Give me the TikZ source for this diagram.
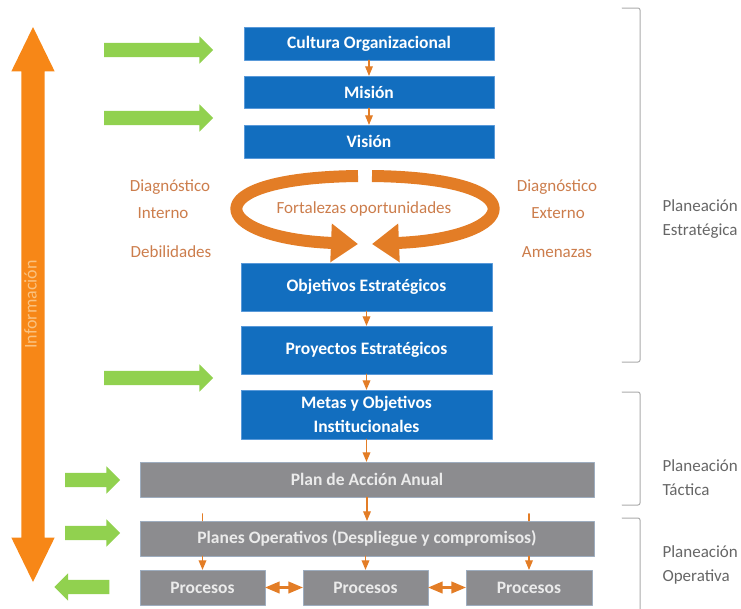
\documentclass[tikz,border=0pt]{standalone}
\usepackage{fontspec}
\setmainfont{Carlito}
\usetikzlibrary{arrows,arrows.meta,shapes.arrows,calc}
\definecolor{qqttcc}{rgb}{0.07,0.43,0.75}
\definecolor{zzbbff}{rgb}{0.35,0.6,0.85}
\definecolor{ttttuu}{rgb}{0.55,0.55,0.56}
\definecolor{bbccdd}{rgb}{0.62,0.68,0.75}
\definecolor{ccffqq}{rgb}{0.57,0.82,0.31}
\definecolor{ffttqq}{rgb}{0.97,0.53,0.09}
\definecolor{ffccaa}{rgb}{0.98,0.76,0.5}
\definecolor{eettqq}{rgb}{0.89,0.49,0.15}
\definecolor{cctt44}{rgb}{0.8,0.49,0.3}
\definecolor{gggggg}{rgb}{0.67,0.67,0.67}
\definecolor{uuuuuu}{rgb}{0.4,0.4,0.4}

\begin{document}
\begin{tikzpicture}[line cap=round,line join=round,>=triangle 45,x=1pt,y=-1pt,
	azul/.style={draw=zzbbff,fill=qqttcc,text=white,inner sep=0,minimum width=250,font=\fontsize{17.5}{24}\selectfont\bfseries,align=center},
	gris/.style={draw=bbccdd,fill=ttttuu,text=white!92!black,inner sep=0,minimum height=35,font=\fontsize{17.5}{20}\selectfont\bfseries},
	verde/.style={single arrow,fill=ccffqq,inner xsep=0,inner ysep=7pt,text height=0pt,text depth=0pt,minimum width=27,single arrow head extend=6.5,single arrow tip angle=90},
	conector/.style={draw=eettqq,line width=1.2pt},
	ciclo/.style={draw=eettqq,line width=12pt,line cap=butt,-{Triangle[length=27pt,width=37pt]}},
	etiqueta/.style={text=cctt44,font=\fontsize{17}{20}\selectfont},
	nivel/.style={text=uuuuuu,font=\fontsize{17}{24}\selectfont,align=left,anchor=west},
	llave/.style={draw=gggggg,line width=1pt,rounded corners=2pt}]
		\useasboundingbox (0,0) rectangle (741,608);
		\node[azul,minimum height=33] (cultura) at (369,43.5) {Cultura Organizacional};
		\node[azul,minimum height=32] (mision) at (369,92) {Misión};
		\node[azul,minimum height=33] (vision) at (369,141.5) {Visión};
		\node[azul,minimum height=48,minimum width=251] (objetivos) at (366.5,287) {Objetivos Estratégicos};
		\node[azul,minimum height=48,minimum width=251] (proyectos) at (366.5,350) {Proyectos Estratégicos};
		\node[azul,minimum height=49,minimum width=251] (metas) at (366.5,414.5) {Metas y Objetivos\\Institucionales};
		\node[gris,minimum width=454] (plan) at (367,479.5) {Plan de Acción Anual};
		\node[gris,minimum width=454] (planes) at (367,538.5) {Planes Operativos (Despliegue y compromisos)};
		\node[gris,minimum width=125] (proc1) at (202.5,587.5) {Procesos};
		\node[gris,minimum width=125] (proc2) at (365.5,587.5) {Procesos};
		\node[gris,minimum width=126] (proc3) at (529,587.5) {Procesos};
		\draw[conector,->] (cultura) -- (mision);
		\draw[conector,->] (mision) -- (vision);
		\draw[conector,->] (objetivos) -- (proyectos);
		\draw[conector,->] (proyectos) -- (metas);
		\draw[conector,->] (metas.south) -- (metas.south |- plan.north);
		\draw[conector,->] (plan.south) -- (plan.south |- planes.north);
		\draw[conector] ($(planes.north -| proc1)+(0,-7)$) -- (planes.north -| proc1);
		\draw[conector] ($(planes.north -| proc3)+(0,-7)$) -- (planes.north -| proc3);
		\draw[conector,->] (planes.south -| proc1) -- (proc1);
		\draw[conector,->] (planes.south -| proc2) -- (proc2);
		\draw[conector,->] (planes.south -| proc3) -- (proc3);
		\draw[conector,line width=2.4pt,<->] (proc1) -- (proc2);
		\draw[conector,line width=2.4pt,<->] (proc2) -- (proc3);
		\draw[ciclo] (358,176) .. controls (190,178) and (210,238) .. (358,244);
		\draw[ciclo] (372,176) .. controls (540,178) and (520,238) .. (372,244);
		\node[etiqueta] (fortalezas) at (364,209) {Fortalezas oportunidades};
		\node[etiqueta] (diagint) at (170,187) {Diagnóstico};
		\node[etiqueta] (interno) at (163,213) {Interno};
		\node[etiqueta] (debilidades) at (171,252) {Debilidades};
		\node[etiqueta] (diagext) at (557,187) {Diagnóstico};
		\node[etiqueta] (externo) at (558,213) {Externo};
		\node[etiqueta] (amenazas) at (557,252) {Amenazas};
		\node[verde,minimum height=109] (f1) at (155,50) {};
		\node[verde,minimum height=109] (f2) at (155,118) {};
		\node[verde,minimum height=109] (f3) at (155,378) {};
		\node[verde,minimum height=55] (f4) at (89,480) {};
		\node[verde,minimum height=55] (f5) at (89,533) {};
		\node[verde,minimum height=55,shape border rotate=180] (f6) at (85.5,587) {};
		\node[double arrow,rotate=90,fill=ffttqq,text=ffccaa,inner xsep=0,inner ysep=5pt,text height=10pt,text depth=3pt,minimum height=555,minimum width=42,double arrow head extend=10,double arrow tip angle=52,font=\fontsize{18}{20}\selectfont] (informacion) at (33,304.5) {Información};
		\draw[llave] (622,8) -- (640,8) -- (640,362) -- (622,362);
		\draw[llave] (622,392) -- (640,392) -- (640,505) -- (622,505);
		\draw[llave] (622,518) -- (640,518) -- (640,612);
		\node[nivel] (estrategica) at (659,219) {Planeación\\Estratégica};
		\node[nivel] (tactica) at (659,478) {Planeación\\Táctica};
		\node[nivel] (operativa) at (659,565) {Planeación\\Operativa};
\end{tikzpicture}
\end{document}
